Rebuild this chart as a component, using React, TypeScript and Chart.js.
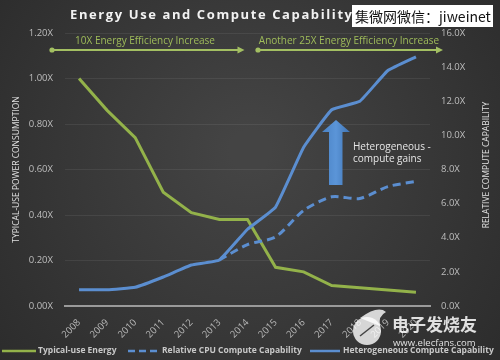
import React, { useEffect, useRef } from "react";
import { Chart, registerables } from "chart.js";

Chart.register(...registerables);

const years = ["2008", "2009", "2010", "2011", "2012", "2013", "2014", "2015", "2016", "2017", "2018", "2019", "2020"];
const typicalEnergy = [1.0, 0.86, 0.74, 0.5, 0.41, 0.38, 0.38, 0.17, 0.15, 0.09, 0.08, 0.07, 0.06];
const cpuCompute = [null, null, null, null, null, 2.7, 3.6, 4.05, 5.6, 6.4, 6.3, 7.0, 7.3];
const heteroCompute = [0.95, 0.95, 1.1, 1.7, 2.4, 2.7, 4.5, 5.8, 9.3, 11.5, 12.0, 13.8, 14.6];

const legendLabels = ["Typical-use Energy", "Relative CPU Compute Capability", "Heterogeneous Compute Capability"];

const GREEN = "#93b24a";
const BLUE = "#5b8ed0";
const FONT = "'Open Sans', 'DejaVu Sans', sans-serif";

const decorPlugin = {
  id: "decor",
  beforeDraw(chart: any) {
    const { ctx, width, height } = chart;
    ctx.save();
    const g = ctx.createRadialGradient(250, 150, 20, 250, 170, 330);
    g.addColorStop(0, "#444444");
    g.addColorStop(1, "#2b2b2b");
    ctx.fillStyle = g;
    ctx.fillRect(0, 0, width, height);
    ctx.restore();
  },
  afterDraw(chart: any) {
    const { ctx } = chart;
    const xs = chart.scales.x;
    ctx.save();

    // Title
    ctx.font = `bold 13px ${FONT}`;
    (ctx as any).letterSpacing = "1.6px";
    ctx.fillStyle = "#f2f2f2";
    ctx.textAlign = "left";
    ctx.textBaseline = "middle";
    ctx.fillText("Energy Use and Compute Capability", 70, 15);
    (ctx as any).letterSpacing = "0px";

    // Right axis title (reads bottom-to-top)
    ctx.save();
    ctx.translate(487, 165);
    ctx.rotate(-Math.PI / 2);
    ctx.font = `8.5px ${FONT}`;
    ctx.fillStyle = "#e0e0e0";
    ctx.textAlign = "center";
    ctx.fillText("RELATIVE COMPUTE CAPABILITY", 0, 0);
    ctx.restore();

    // Green efficiency arrows
    const x2014 = xs.getPixelForValue(6);
    const drawGreenArrow = (x1: number, x2: number, y: number) => {
      ctx.strokeStyle = "#a3bf62";
      ctx.fillStyle = "#a3bf62";
      ctx.lineWidth = 2;
      ctx.beginPath();
      ctx.moveTo(x1, y);
      ctx.lineTo(x2 - 5, y);
      ctx.stroke();
      ctx.beginPath();
      ctx.arc(x1, y, 2.6, 0, Math.PI * 2);
      ctx.fill();
      ctx.beginPath();
      ctx.moveTo(x2, y);
      ctx.lineTo(x2 - 7, y - 3.5);
      ctx.lineTo(x2 - 7, y + 3.5);
      ctx.closePath();
      ctx.fill();
    };
    drawGreenArrow(52, x2014 - 3, 50);
    drawGreenArrow(258, 443, 50);
    ctx.font = `10px ${FONT}`;
    ctx.fillStyle = "#9fbc5a";
    ctx.textAlign = "center";
    ctx.fillText("10X Energy Efficiency Increase", 145, 41);
    ctx.fillText("Another 25X Energy Efficiency Increase", 349, 41);

    // Blue vertical arrow
    const ag = ctx.createLinearGradient(322, 0, 350, 0);
    ag.addColorStop(0, "#4a82c4");
    ag.addColorStop(0.5, "#5b95d8");
    ag.addColorStop(1, "#3f74b4");
    ctx.fillStyle = ag;
    ctx.beginPath();
    ctx.moveTo(336, 120);
    ctx.lineTo(350, 132);
    ctx.lineTo(342.5, 132);
    ctx.lineTo(342.5, 185);
    ctx.lineTo(329, 185);
    ctx.lineTo(329, 132);
    ctx.lineTo(322, 132);
    ctx.closePath();
    ctx.fill();

    ctx.font = `10px ${FONT}`;
    ctx.fillStyle = "#e6e6e6";
    ctx.textAlign = "left";
    ctx.fillText("Heterogeneous -", 353, 147);
    ctx.fillText("compute gains", 353, 159);

    // Bottom watermark (behind legend)
    ctx.save();
    ctx.globalAlpha = 0.8;
    ctx.fillStyle = "#ffffff";
    ctx.beginPath();
    ctx.arc(367, 331, 14, 0, Math.PI * 2);
    ctx.fill();
    ctx.beginPath();
    ctx.moveTo(360, 318);
    ctx.quadraticCurveTo(378, 305, 386, 312);
    ctx.quadraticCurveTo(378, 316, 380, 326);
    ctx.closePath();
    ctx.fill();
    ctx.globalAlpha = 1;
    ctx.strokeStyle = "#444";
    ctx.lineWidth = 1.5;
    ctx.beginPath();
    ctx.moveTo(360, 336);
    ctx.lineTo(374, 325);
    ctx.stroke();
    ctx.globalAlpha = 0.85;
    ctx.font = `bold 17px 'Noto Sans CJK SC', sans-serif`;
    ctx.fillStyle = "#ffffff";
    ctx.textAlign = "left";
    ctx.fillText("电子发烧友", 392, 325);
    ctx.font = `9.5px ${FONT}`;
    ctx.fillText("www.elecfans.com", 393, 343);
    ctx.restore();

    // Legend
    const ly = 351;
    ctx.font = `bold 8.5px ${FONT}`;
    ctx.fillStyle = "#c8c8c8";
    ctx.textAlign = "left";
    ctx.textBaseline = "middle";
    ctx.lineWidth = 2.5;
    ctx.strokeStyle = GREEN;
    ctx.beginPath();
    ctx.moveTo(2, ly);
    ctx.lineTo(36, ly);
    ctx.stroke();
    ctx.fillText(legendLabels[0], 38, ly);
    ctx.strokeStyle = BLUE;
    ctx.setLineDash([7, 4]);
    ctx.beginPath();
    ctx.moveTo(128, ly);
    ctx.lineTo(160, ly);
    ctx.stroke();
    ctx.setLineDash([]);
    ctx.fillText(legendLabels[1], 162, ly);
    ctx.beginPath();
    ctx.moveTo(310, ly);
    ctx.lineTo(340, ly);
    ctx.stroke();
    ctx.fillText(legendLabels[2], 343, ly);

    // Watermark box (top)
    ctx.fillStyle = "#ffffff";
    ctx.fillRect(352, 5, 141, 22);
    ctx.fillStyle = "#111111";
    ctx.font = `14px 'Noto Sans CJK SC', sans-serif`;
    ctx.textAlign = "left";
    ctx.fillText("集微网微信：jiweinet", 355, 16.5);
    ctx.restore();
  },
};

export default function App() {
  const ref = useRef<HTMLCanvasElement | null>(null);
  useEffect(() => {
    document.body.style.margin = "0";
    if (!ref.current) return;
    const tickFont = { family: FONT, size: 9.5 };
    const chart = new Chart(ref.current, {
      type: "line",
      data: {
        labels: years,
        datasets: [
          {
            label: legendLabels[2],
            data: heteroCompute,
            yAxisID: "y1",
            borderColor: BLUE,
            borderWidth: 3,
            pointRadius: 0,
            tension: 0.1,
          },
          {
            label: legendLabels[1],
            data: cpuCompute,
            yAxisID: "y1",
            borderColor: BLUE,
            borderWidth: 3,
            borderDash: [8, 5],
            pointRadius: 0,
            tension: 0.25,
          },
          {
            label: legendLabels[0],
            data: typicalEnergy,
            yAxisID: "y",
            borderColor: GREEN,
            borderWidth: 3,
            pointRadius: 0,
            tension: 0,
          },
        ],
      },
      options: {
        responsive: false,
        animation: false,
        layout: { padding: { top: 33, left: 0, right: 0, bottom: 0 } },
        plugins: { legend: { display: false }, tooltip: { enabled: false } },
        scales: {
          x: {
            offset: true,
            grid: { display: false },
            border: { display: true, color: "#9a9a9a", width: 2 },
            ticks: {
              color: "#b8b8b8",
              font: tickFont,
              minRotation: 45,
              maxRotation: 45,
              padding: 3,
            },
            afterFit: (s: any) => {
              s.height = 54;
            },
          },
          y: {
            position: "left",
            min: 0,
            max: 1.2,
            ticks: {
              stepSize: 0.2,
              color: "#bdbdbd",
              font: tickFont,
              padding: 12,
              callback: (v: any) => Number(v).toFixed(2) + "X",
            },
            grid: { color: "rgba(255,255,255,0.07)", drawTicks: false },
            border: { display: false },
            title: {
              display: true,
              text: "TYPICAL-USE POWER CONSUMPTION",
              color: "#e0e0e0",
              font: { family: FONT, size: 8.5 },
              padding: { top: 11, bottom: 0 },
            },
            afterFit: (s: any) => {
              s.width = 65;
            },
          },
          y1: {
            position: "right",
            min: 0,
            max: 16,
            ticks: {
              stepSize: 2,
              color: "#bdbdbd",
              font: tickFont,
              padding: 11,
              callback: (v: any) => Number(v).toFixed(1) + "X",
            },
            grid: { display: false, drawTicks: false },
            border: { display: false },
            afterFit: (s: any) => {
              s.width = 70;
            },
          },
        },
      },
      plugins: [decorPlugin],
    });
    return () => chart.destroy();
  }, []);
  return (
    <div style={{ width: 500, height: 360 }}>
      <canvas ref={ref} width={500} height={360} style={{ display: "block" }} />
    </div>
  );
}
